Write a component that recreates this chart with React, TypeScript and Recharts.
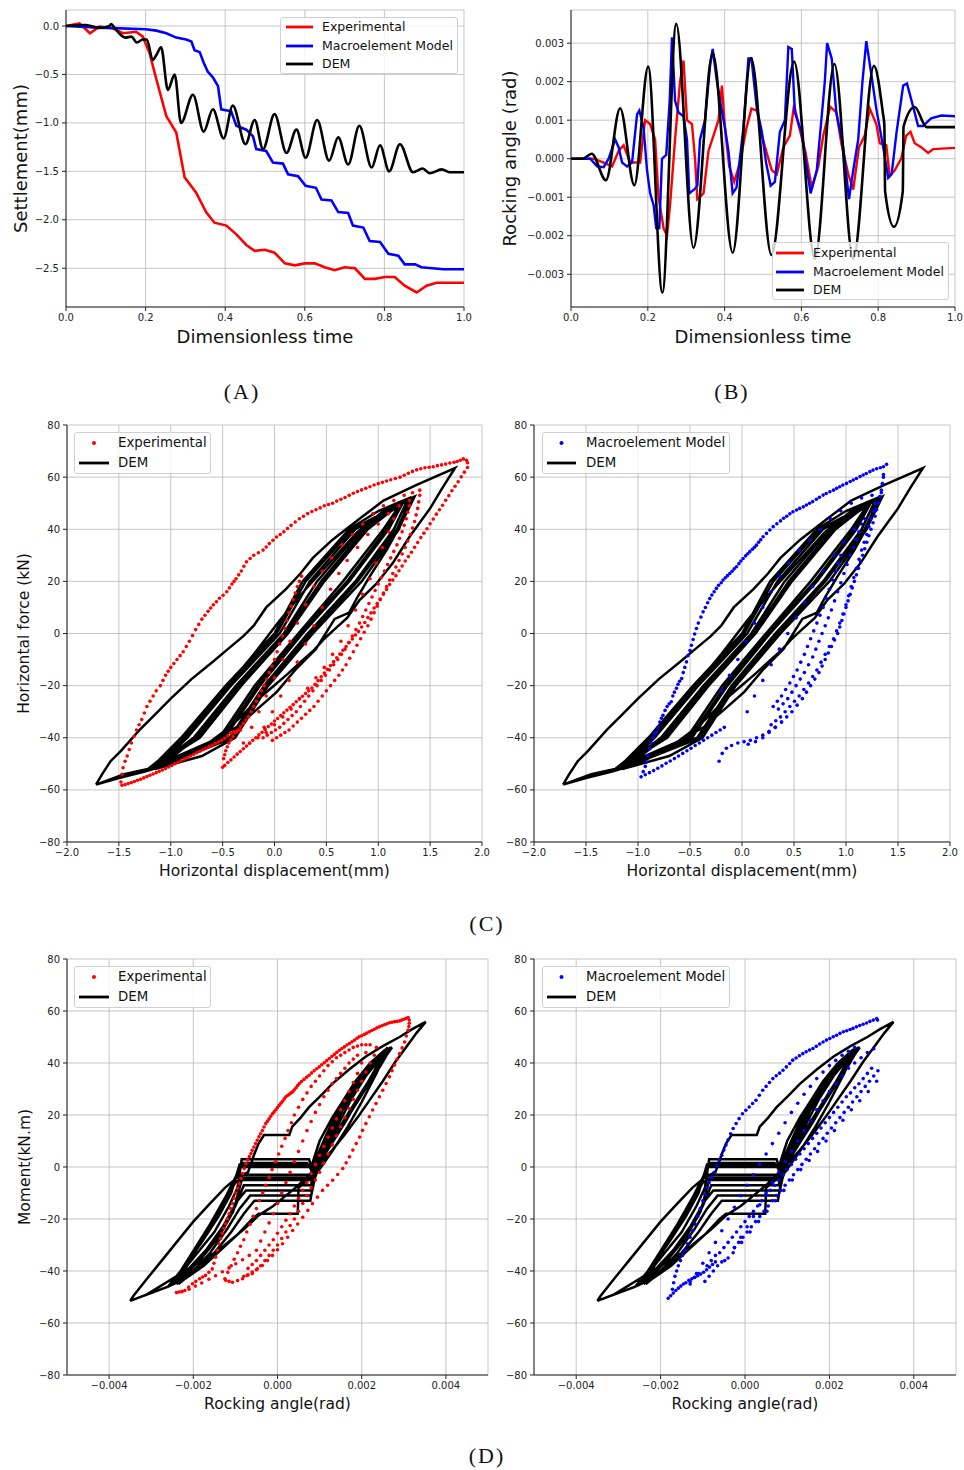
import React from "react";
import { ComposedChart, Line, Scatter, XAxis, YAxis, CartesianGrid } from "recharts";

const FONT = "'DejaVu Sans', sans-serif";
const RED = "#ff0000";
const BLUE = "#0000ff";
const BLACK = "#000000";

// (A) settlement (mm) against dimensionless time
const expSettle = [[0,0],[0.034,0.027],[0.06,-0.075],[0.084,-0.007],[0.117,-0.024],[0.143,-0.075],[0.176,-0.06],[0.193,-0.11],[0.21,-0.28],[0.227,-0.55],[0.252,-0.93],[0.277,-1.1],[0.298,-1.56],[0.327,-1.72],[0.352,-1.92],[0.373,-2.03],[0.403,-2.06],[0.428,-2.15],[0.453,-2.26],[0.474,-2.32],[0.5,-2.31],[0.524,-2.34],[0.55,-2.45],[0.575,-2.47],[0.6,-2.45],[0.625,-2.45],[0.65,-2.49],[0.675,-2.52],[0.7,-2.49],[0.726,-2.5],[0.751,-2.61],[0.776,-2.61],[0.801,-2.59],[0.826,-2.59],[0.851,-2.68],[0.881,-2.75],[0.906,-2.68],[0.931,-2.65],[1,-2.65]];
const macroSettle = [[0,0],[0.084,-0.017],[0.2,-0.034],[0.227,-0.048],[0.252,-0.075],[0.277,-0.12],[0.302,-0.14],[0.315,-0.16],[0.323,-0.25],[0.336,-0.27],[0.346,-0.38],[0.356,-0.47],[0.369,-0.53],[0.382,-0.62],[0.39,-0.86],[0.415,-0.88],[0.428,-1.03],[0.453,-1.07],[0.47,-1.14],[0.478,-1.27],[0.503,-1.29],[0.52,-1.41],[0.545,-1.42],[0.558,-1.53],[0.583,-1.55],[0.602,-1.65],[0.628,-1.67],[0.642,-1.79],[0.667,-1.8],[0.684,-1.92],[0.709,-1.93],[0.721,-2.06],[0.747,-2.08],[0.763,-2.22],[0.789,-2.23],[0.81,-2.35],[0.835,-2.37],[0.851,-2.46],[0.877,-2.46],[0.893,-2.49],[0.948,-2.51],[1,-2.51]];
const demSettle = [[0,0],[0.05,0.01],[0.084,-0.02],[0.109,0],[0.113,0.02],[0.126,-0.04],[0.149,-0.12],[0.164,-0.11],[0.178,-0.17],[0.193,-0.14],[0.203,-0.14],[0.218,-0.35],[0.227,-0.3],[0.239,-0.22],[0.256,-0.66],[0.273,-0.5],[0.289,-1.0],[0.319,-0.71],[0.346,-1.09],[0.369,-0.86],[0.396,-1.16],[0.419,-0.82],[0.451,-1.22],[0.474,-0.97],[0.495,-1.27],[0.524,-0.91],[0.554,-1.31],[0.579,-1.07],[0.602,-1.36],[0.631,-0.97],[0.661,-1.39],[0.684,-1.15],[0.709,-1.43],[0.737,-1.03],[0.768,-1.46],[0.789,-1.23],[0.812,-1.5],[0.839,-1.22],[0.872,-1.51],[0.896,-1.47],[0.914,-1.52],[0.944,-1.48],[0.965,-1.51],[1,-1.51]];

// (B) rocking angle, in 1e-3 rad, against dimensionless time
const expRock = [[0,0],[0.059,0],[0.085,-0.1],[0.107,-0.2],[0.124,0.2],[0.137,0.35],[0.154,-0.1],[0.18,-0.1],[0.193,1.0],[0.206,0.9],[0.219,0.5],[0.228,-1.0],[0.241,-1.8],[0.25,-2.0],[0.258,-1.2],[0.271,0.5],[0.284,2.0],[0.293,2.55],[0.302,1.0],[0.315,0.9],[0.323,0],[0.329,-1.05],[0.345,-0.9],[0.358,0.2],[0.371,0.6],[0.384,1.0],[0.393,1.9],[0.401,0.8],[0.412,-0.2],[0.425,-0.6],[0.44,-0.1],[0.457,0.8],[0.47,1.3],[0.484,1.25],[0.497,0.6],[0.514,0],[0.523,-0.3],[0.536,-0.4],[0.553,0.3],[0.57,0.6],[0.581,1.4],[0.592,0.9],[0.61,0.2],[0.627,-0.75],[0.644,-0.2],[0.657,0.6],[0.675,1.35],[0.691,1.2],[0.704,0.4],[0.722,-0.4],[0.735,-0.8],[0.75,0.3],[0.765,0.6],[0.778,1.3],[0.795,0.9],[0.804,0.4],[0.821,0.35],[0.83,-0.45],[0.843,-0.3],[0.86,0],[0.873,0.6],[0.884,0.7],[0.895,0.4],[0.912,0.3],[0.93,0.15],[0.943,0.25],[1,0.28]];
const macroRock = [[0,0],[0.05,0],[0.068,-0.2],[0.085,-0.22],[0.098,0],[0.115,0.5],[0.124,0.3],[0.133,-0.1],[0.146,-0.2],[0.159,-0.1],[0.172,1.15],[0.178,1.25],[0.189,0.8],[0.198,-0.3],[0.206,-0.9],[0.215,-1.2],[0.222,-1.8],[0.23,-1.8],[0.237,0],[0.248,0.1],[0.257,1.5],[0.263,3.15],[0.271,1.5],[0.28,1.2],[0.293,1.1],[0.302,0.5],[0.308,-0.9],[0.321,-0.8],[0.329,-0.7],[0.336,0.5],[0.349,1.0],[0.362,2.4],[0.369,2.85],[0.38,2.0],[0.388,1.5],[0.401,0.8],[0.41,0.2],[0.421,-0.9],[0.431,-0.75],[0.449,0.8],[0.462,2.6],[0.47,2.6],[0.484,1.3],[0.497,0.7],[0.508,-0.1],[0.52,-0.7],[0.531,-0.6],[0.544,0.7],[0.557,1.0],[0.566,2.9],[0.575,2.85],[0.583,1.2],[0.6,0.7],[0.618,-0.5],[0.624,-0.9],[0.64,-0.3],[0.652,1.0],[0.661,2.0],[0.667,3.0],[0.679,2.6],[0.691,1.2],[0.709,0.3],[0.724,-1.05],[0.735,-0.3],[0.748,0.5],[0.759,2.0],[0.769,3.05],[0.782,2.2],[0.795,1.3],[0.813,0.3],[0.826,-0.5],[0.835,-0.4],[0.848,0.7],[0.865,1.9],[0.875,1.95],[0.887,1.5],[0.904,0.85],[0.917,0.85],[0.938,1.05],[0.964,1.12],[1,1.1]];
const demRock = [[0,0],[0.03,0],[0.054,0.13],[0.091,-0.56],[0.128,1.31],[0.165,-0.69],[0.201,2.39],[0.238,-3.48],[0.274,3.5],[0.319,-2.31],[0.369,2.74],[0.421,-2.44],[0.469,2.61],[0.522,-2.5],[0.581,2.52],[0.635,-2.6],[0.686,2.46],[0.735,-2.6],[0.789,2.41],[0.812,1.2],[0.816,0.88],[0.818,-0.85],[0.841,-1.77],[0.864,-0.85],[0.866,0.83],[0.895,1.34],[0.926,0.82],[1,0.82]];

// (C) horizontal force (kN) against horizontal displacement (mm)
const expForce = [
  [-1.48,-57],[-1.47,-54],[-1.46,-51.5],[-1.44,-49],[-1.42,-47],[-1.4,-44.5],[-1.38,-42],[-1.355,-39.5],[-1.33,-37],[-1.305,-35],[-1.28,-33],[-1.255,-30.5],[-1.23,-28],[-1.2,-26],[-1.17,-24],[-1.14,-22],[-1.1,-20],[-1.075,-18],[-1.05,-16],[-1.025,-14.5],[-1.0,-13],[-0.97,-11.5],[-0.94,-10],[-0.91,-8.5],[-0.88,-7],[-0.85,-5],[-0.82,-3],[-0.79,-0.8],[-0.76,1.5],[-0.73,3.5],[-0.7,5.5],[-0.67,7],[-0.64,8.5],[-0.615,9.8],[-0.59,11],[-0.56,12.2],[-0.53,13.5],[-0.495,14.7],[-0.46,16],[-0.435,17.5],[-0.41,19],[-0.39,20],[-0.37,21],[-0.345,22.5],[-0.32,24],[-0.295,25.8],[-0.27,27.5],[-0.235,28.8],[-0.2,30],[-0.155,31],[-0.11,32],[-0.08,33.2],[-0.05,34.5],[-0.015,35.8],[0.02,37],[0.055,38],[0.09,39],[0.125,40.3],[0.16,41.5],[0.2,42.8],[0.24,44],[0.28,45],[0.32,46],[0.36,46.8],[0.4,47.5],[0.44,48.2],[0.48,49],[0.52,49.5],[0.56,50],[0.6,50.8],[0.64,51.5],[0.68,52.2],[0.72,53],[0.76,53.8],[0.8,54.5],[0.84,55.1],[0.88,55.7],[0.92,56.3],[0.96,57],[1.0,57.5],[1.04,58],[1.08,58.5],[1.12,59],[1.165,59.5],[1.21,60],[1.25,60.7],[1.29,61.5],[1.33,62.2],[1.37,62.8],[1.41,63.2],[1.45,63.6],[1.49,63.8],[1.53,64],[1.57,64.4],[1.61,64.7],[1.65,65],[1.69,65.4],[1.73,65.7],[1.76,66],[1.79,66.5],[1.82,67],[1.85,66.5],[1.86,65.5],
  [1.86,63.7],[1.83,61.9],[1.8,60.1],[1.77,58.2],[1.74,56.5],[1.71,54.8],[1.68,52.9],[1.65,51.1],[1.62,49.2],[1.59,47.5],[1.56,45.8],[1.53,43.9],[1.5,42.1],[1.47,40.2],[1.44,38.5],[1.41,36.8],[1.38,34.9],[1.35,33.1],[1.32,31.2],[1.29,29.5],[1.26,27.8],[1.23,25.9],[1.2,24.1],[1.17,22.2],[1.14,20.5],[1.11,18.8],[1.08,16.9],[1.05,15.1],[1.02,13.2],[0.99,11.5],[0.96,9.8],[0.93,7.9],[0.9,6.1],[0.87,4.2],[0.84,2.5],[0.81,0.8],[0.78,-0.6],[0.75,-2.1],[0.72,-3.5],[0.69,-5],[0.66,-6.4],[0.63,-7.9],[0.6,-9.3],[0.57,-10.8],[0.54,-12.3],[0.51,-13.7],[0.48,-15.2],[0.45,-16.6],[0.42,-18.1],[0.39,-19.5],[0.36,-20.9],[0.33,-22],[0.3,-23],[0.27,-24.1],[0.24,-25.1],[0.21,-26.2],[0.18,-27.3],[0.15,-28.3],[0.12,-29.4],[0.09,-30.4],[0.06,-31.5],[0.03,-32.6],[0.0,-33.6],[-0.03,-34.7],[-0.06,-35.7],[-0.09,-36.8],[-0.12,-37.9],[-0.15,-38.9],[-0.18,-40],[-0.21,-41],[-0.24,-42.1],[-0.27,-43.2],[-0.3,-44.2],[-0.33,-45.3],[-0.36,-46.3],[-0.39,-47.4],[-0.42,-48.5],[-0.45,-49.5],[-0.48,-50.6],[-0.5,-51.3],
  [-1.47,-58.2],[-1.44,-58],[-1.41,-57.6],[-1.38,-57.2],[-1.35,-56.8],[-1.32,-56.3],[-1.29,-55.9],[-1.26,-55.4],[-1.23,-54.9],[-1.2,-54.4],[-1.17,-53.9],[-1.14,-53.4],[-1.11,-52.9],[-1.08,-52.4],[-1.05,-51.8],[-1.02,-51.2],[-0.99,-50.6],[-0.96,-50],[-0.93,-49.4],[-0.9,-48.8],[-0.87,-48.2],[-0.84,-47.6],[-0.81,-47],[-0.78,-46.4],[-0.75,-45.8],[-0.72,-45.2],[-0.69,-44.6],[-0.66,-44],[-0.63,-43.4],[-0.6,-42.8],[-0.57,-42.2],[-0.54,-41.6],[-0.51,-41],[-0.48,-40.2],[-0.45,-39.2],[-0.42,-38.3],[-0.39,-37.7],[-0.36,-37.4],[-0.33,-37.1],
  [-0.49,-48],[-0.48,-46.5],[-0.47,-45],[-0.455,-43.5],[-0.44,-42],[-0.42,-40.8],[-0.4,-39.5],[-0.375,-38.2],[-0.35,-37],[-0.325,-35.8],[-0.3,-34.5],[-0.275,-33.2],[-0.25,-32],[-0.225,-30],[-0.2,-28],[-0.175,-26],[-0.15,-24],[-0.125,-22],[-0.1,-20],[-0.075,-17.5],[-0.05,-15],[-0.025,-12.5],[0.0,-10],[0.025,-7],[0.05,-4],[0.075,-1],[0.1,2],[0.12,5],[0.14,8],[0.16,10.5],[0.18,13],[0.2,15.5],[0.22,18],[0.24,20],[0.26,22],
  [-0.3,-42],[-0.22,-36],[-0.15,-30],[-0.08,-24],[0.0,-17],[0.08,-10],[0.15,-3],[0.22,4],[0.3,11],[0.38,18],[0.46,24],[0.55,29],[0.65,34],[0.75,38],[0.85,42],[0.95,46],[1.05,49],[1.15,51],[1.25,53],[1.33,54],[1.4,55],
  [-0.1,-36],[-0.02,-30],[0.06,-24],[0.14,-18],[0.22,-11],[0.3,-4],[0.38,3],[0.46,10],[0.54,17],[0.62,23],[0.7,28],[0.8,33],[0.9,38],[1.0,42],[1.1,46],[1.2,49],[1.3,51],
  [1.4,53],[1.39,50.5],[1.38,48],[1.365,45.5],[1.35,43],[1.33,40.5],[1.31,38],[1.285,35.5],[1.26,33],[1.23,30.5],[1.2,28],[1.17,25.5],[1.14,23],[1.11,20.5],[1.08,18],[1.05,15.5],[1.02,13],[0.99,10.5],[0.96,8],[0.93,5.5],[0.9,3],[0.865,0.5],[0.83,-2],[0.795,-4.5],[0.76,-7],[0.725,-9.5],[0.69,-12],[0.655,-14],[0.62,-16],[0.58,-18],[0.54,-20],[0.5,-22],[0.46,-24],[0.42,-26],[0.38,-28],[0.34,-29.5],[0.3,-31],[0.26,-32.5],[0.22,-34],[0.18,-35.5],[0.14,-37],[0.1,-38],[0.06,-39],[0.02,-40],[-0.02,-41],
  [1.3,49],[1.285,46.5],[1.27,44],[1.25,41.5],[1.23,39],[1.205,36.5],[1.18,34],[1.15,31.5],[1.12,29],[1.09,26.5],[1.06,24],[1.03,21.5],[1.0,19],[0.97,16.5],[0.94,14],[0.91,11.5],[0.88,9],[0.85,6.5],[0.82,4],[0.785,1.5],[0.75,-1],[0.715,-3.5],[0.68,-6],[0.645,-8],[0.61,-10],[0.57,-12],[0.53,-14],[0.49,-16],[0.45,-18],[0.41,-20],[0.37,-22],[0.33,-24],[0.29,-26],[0.25,-28],[0.21,-30],[0.17,-31.5],[0.13,-33],[0.09,-34.5],[0.05,-36],[0.01,-37],[-0.03,-38],[-0.07,-39],[-0.11,-40],
  [1.15,44],[1.1,39],[1.04,33],[0.98,27],[0.92,21],[0.85,15],[0.78,9],[0.71,3],[0.64,-3],[0.56,-8],[0.48,-13],[0.4,-17],[0.32,-21],[0.24,-25],[0.16,-29],[0.08,-32],[0.0,-35],[-0.08,-38],[-0.16,-40],[-0.24,-42],
];
const macroForce = [
  [-0.95,-53],[-0.93,-51],[-0.92,-49.3],[-0.905,-46.8],[-0.887,-44.2],[-0.87,-42],[-0.855,-40],[-0.84,-38.5],[-0.823,-37.8],[-0.81,-36],[-0.79,-34],[-0.775,-32.5],[-0.76,-31.4],[-0.74,-29.5],[-0.72,-28],[-0.7,-27],[-0.68,-26.2],[-0.665,-24],[-0.65,-22.5],[-0.63,-21],[-0.615,-19.5],[-0.6,-18.3],[-0.58,-17.3],[-0.565,-15],[-0.55,-13],[-0.534,-10.9],[-0.52,-8.5],[-0.5,-6.5],[-0.486,-4.5],[-0.47,-2.3],[-0.455,-0.2],[-0.438,1.9],[-0.42,4],[-0.395,6.3],[-0.374,8.3],[-0.352,10],[-0.33,11.8],[-0.31,13.4],[-0.29,14.8],[-0.268,16],[-0.246,17.3],[-0.225,18.5],[-0.2,19.5],[-0.182,20.5],[-0.16,21.4],[-0.14,22.2],[-0.117,23],[-0.095,23.9],[-0.075,24.8],[-0.053,25.6],[-0.03,26.8],[-0.01,27.8],[0.011,28.8],[0.035,29.8],[0.055,30.6],[0.075,31.4],[0.1,32.3],[0.12,33.1],[0.139,33.9],[0.16,35],[0.18,36],[0.203,37.1],[0.235,38.4],[0.268,39.7],[0.3,41],[0.335,42.1],[0.37,43.2],[0.4,44.2],[0.43,45],[0.46,45.9],[0.49,46.7],[0.525,47.4],[0.555,48],[0.59,48.6],[0.62,49.3],[0.65,50],[0.68,50.6],[0.715,51.5],[0.745,52.3],[0.78,53.1],[0.81,53.7],[0.845,54.4],[0.88,55],[0.91,55.7],[0.94,56.3],[0.97,57],[1.005,57.6],[1.04,58.3],[1.07,58.9],[1.1,59.5],[1.135,60.2],[1.165,60.8],[1.195,61.4],[1.23,62.1],[1.26,62.7],[1.295,63.2],[1.33,63.6],[1.36,64],[1.39,64.9],[1.36,61],[1.35,57.5],[1.34,54],
  [-0.97,-55],[-0.93,-54.2],[-0.89,-53.4],[-0.85,-52.6],[-0.81,-51.7],[-0.77,-50.8],[-0.73,-49.8],[-0.69,-48.9],[-0.65,-48],[-0.61,-47],[-0.57,-46],[-0.53,-45],[-0.49,-44],[-0.45,-43],[-0.41,-42],[-0.37,-41],[-0.33,-40],[-0.29,-39],[-0.25,-38],[-0.21,-37],[-0.17,-36],
  [-0.22,-49],[-0.19,-46],[-0.15,-44],[-0.1,-43],[-0.04,-42],[0.02,-41.5],[0.08,-41],[0.14,-40],[0.2,-39],[0.26,-37.5],[0.32,-36],[0.38,-34],
  [1.36,60],[1.35,57.5],[1.34,55],[1.325,52.5],[1.31,50],[1.295,47.5],[1.28,45],[1.26,42.5],[1.24,40],[1.22,37.5],[1.2,35],[1.18,32.5],[1.16,30],[1.14,27.5],[1.12,25],[1.1,22.5],[1.08,20],[1.06,17.5],[1.04,15],[1.02,12.5],[1.0,10],[0.98,7.5],[0.96,5],[0.94,2.5],[0.92,0],[0.89,-2.5],[0.86,-5],[0.83,-7.5],[0.8,-10],[0.77,-12.5],[0.74,-15],[0.7,-17.5],[0.66,-20],[0.62,-22.5],[0.58,-25],[0.53,-27.5],[0.48,-30],[0.43,-32],[0.38,-34],[0.32,-36],[0.26,-38],[0.2,-40],[0.13,-41.5],[0.06,-42.5],
  [1.28,50],[1.26,47],[1.24,44],[1.22,41],[1.2,38],[1.175,35],[1.15,32],[1.125,28.5],[1.1,25],[1.075,21.5],[1.05,18],[1.025,14.5],[1.0,11],[0.97,7.5],[0.94,4],[0.91,1],[0.88,-2],[0.84,-5],[0.8,-8],[0.76,-11],[0.72,-14],[0.68,-16.5],[0.64,-19],[0.595,-21.5],[0.55,-24],[0.505,-26],[0.46,-28],[0.415,-30],[0.37,-32],[0.325,-33.5],[0.28,-35],
  [1.15,42],[1.125,39],[1.1,36],[1.07,33],[1.04,30],[1.01,26.5],[0.98,23],[0.95,19.5],[0.92,16],[0.89,12.5],[0.86,9],[0.83,6],[0.8,3],[0.77,0],[0.74,-3],[0.71,-6],[0.68,-9],[0.64,-12],[0.6,-15],[0.56,-17.5],[0.52,-20],[0.48,-22.5],[0.44,-25],[0.395,-27],[0.35,-29],
  [0.95,30],[0.925,27],[0.9,24],[0.87,20.5],[0.84,17],[0.81,13.5],[0.78,10],[0.75,7],[0.72,4],[0.69,1],[0.66,-2],[0.63,-5],[0.6,-8],[0.565,-11],[0.53,-14],[0.495,-16.5],[0.46,-19],[0.42,-21.5],[0.38,-24],[0.34,-26],[0.3,-28],
  [-0.2,-22],[-0.12,-16],[-0.04,-10],[0.04,-3],[0.12,4],[0.2,10],[0.28,16],[0.36,22],[0.45,27],[0.55,32],[0.65,36],[0.75,40],[0.85,44],[0.95,47],[1.05,50],[1.15,52],[1.25,53],
  [0.05,-30],[0.12,-24],[0.2,-18],[0.28,-12],[0.36,-6],[0.44,0],[0.52,6],[0.6,12],[0.68,18],[0.78,24],[0.88,30],[0.98,35],[1.08,40],[1.18,44],[1.28,47],
];
const demForce = [
  [-1.72,-58],[-1.67,-54.5],[-1.58,-49],[-1.48,-45],[-1.3,-37],[-1.15,-31],[-1.0,-25],[-0.8,-17.5],[-0.6,-11],[-0.45,-6],[-0.3,-1],[-0.2,3],[-0.08,10],[0.11,17],[0.25,23],[0.37,29],[0.56,36],[0.82,44],[1.05,51],[1.37,57],[1.74,63.5],
  [1.62,56],[1.5,48],[1.3,37],[1.14,27],[0.98,19],[0.82,12.8],[0.7,6],[0.57,1.3],[0.48,-2],[0.38,-6.4],[0.25,-11],[0.13,-15.4],[-0.02,-20.5],[-0.17,-25.6],[-0.3,-31],[-0.43,-35.9],[-0.6,-41],[-0.75,-44.9],[-1.0,-50],[-1.25,-53],[-1.5,-55.5],[-1.72,-58],
  [-1.45,-54],[-1.22,-52],[-1.0,-45],[-0.72,-33],[-0.45,-20],[-0.2,-8],[0.05,5],[0.3,17],[0.55,28],[0.8,39],[1.05,47],[1.35,52.5],
  [1.22,42],[1.08,32],[0.92,22],[0.8,14],[0.72,8],[0.58,5.6],[0.4,-5.9],[0.2,-14],[0.02,-22.5],[-0.18,-29.5],[-0.37,-36],[-0.68,-43],[-0.95,-49],[-1.2,-52],
  [-0.9,-40],[-0.47,-20],[0.0,0],[0.27,20],[0.72,40],[1.0,47],[1.3,52],
  [1.2,40],[0.84,20],[0.37,0],[-0.06,-20],[-0.38,-40],[-0.7,-47],[-1.15,-52],
  [-0.84,-40],[-0.42,-20],[0.05,0],[0.34,20],[0.78,40],[1.28,51],
  [1.15,40],[0.78,20],[0.32,0],[-0.1,-20],[-0.43,-40],[-1.18,-52],
  [-0.78,-40],[-0.37,-20],[0.09,0],[0.41,20],[0.84,40],[1.25,51],
  [1.1,40],[0.72,20],[0.27,0],[-0.14,-20],[-0.48,-40],[-1.2,-52],
  [-0.72,-40],[-0.32,-20],[0.13,0],[0.48,20],[0.9,40],[1.22,50],
  [1.05,40],[0.66,20],[0.23,0],[-0.19,-20],[-0.53,-40],[-1.16,-51],
  [-0.87,-40],[-0.45,-20],[0.02,0],[0.3,20],[0.75,40],[1.32,52],
  [1.18,40],[0.8,20],[0.35,0],[-0.08,-20],[-0.4,-40],[-1.1,-51],
  [-0.75,-40],[-0.35,-20],[0.11,0],[0.45,20],[0.87,40],[1.2,49],
  [1.08,40],[0.7,20],[0.25,0],[-0.16,-20],[-0.5,-40],[-1.22,-52],
];

// (D) moment (kN.m) against rocking angle, angle in 1e-3 rad
const expMoment = [
  [-2.4,-48.3],[-2.34,-48.1],[-2.27,-47.8],[-2.2,-47.5],[-2.11,-46.2],[-2.02,-44.9],[-1.94,-44],[-1.85,-43],[-1.78,-42.3],[-1.71,-41.7],[-1.63,-40.5],[-1.55,-39.2],[-1.51,-37],[-1.47,-34.7],[-1.43,-32],[-1.39,-29.5],[-1.35,-27.5],[-1.31,-25.5],[-1.27,-23.6],[-1.23,-21.8],[-1.19,-19.9],[-1.15,-18],[-1.11,-16],[-1.07,-14.1],[-1.03,-12],[-0.99,-10],[-0.95,-8.2],[-0.91,-6.4],[-0.87,-4.4],[-0.83,-2.5],[-0.79,-0.6],[-0.75,1.3],[-0.71,2.7],[-0.67,4],[-0.63,5.2],[-0.6,6.4],[-0.56,7.7],[-0.52,9],[-0.48,10.3],[-0.44,11.6],[-0.4,12.8],[-0.36,14],[-0.32,15.4],[-0.28,16.7],[-0.24,17.6],[-0.2,18.5],[-0.16,19.5],[-0.12,20.5],[-0.08,21.2],[-0.04,22],[0,22.9],[0.04,23.7],[0.08,24.5],[0.12,25.3],[0.16,26.2],[0.2,27],[0.24,27.5],[0.28,28],[0.32,28.5],[0.36,28.9],[0.4,29.7],[0.44,30.5],[0.48,31.3],[0.52,32.1],[0.57,32.9],[0.63,33.7],[0.69,34.5],[0.75,35.3],[0.81,36.2],[0.87,37],[0.93,37.8],[0.99,38.5],[1.05,39.3],[1.11,40.1],[1.17,40.9],[1.23,41.7],[1.29,42.5],[1.35,43.3],[1.41,44.1],[1.47,44.9],[1.53,45.6],[1.59,46.2],[1.65,46.9],[1.71,47.5],[1.77,48.2],[1.83,48.8],[1.89,49.5],[1.94,50.1],[2.0,50.5],[2.06,51],[2.12,51.5],[2.18,52],[2.24,52.5],[2.3,53],[2.36,53.5],[2.42,53.9],[2.48,54.3],[2.54,54.7],[2.6,55.1],[2.66,55.5],[2.72,55.7],[2.78,55.9],[2.84,56],[2.9,56.2],[2.95,56.5],[3.0,56.8],[3.05,57.1],[3.1,57.5],[3.13,56.5],[3.13,55.3],
  [3.12,54],[3.1,52.6],[3.06,50.4],[3.02,48.1],[2.96,45.8],[2.9,43.6],[2.84,41.4],[2.78,39.2],[2.72,37],[2.66,34.7],[2.58,32.1],[2.5,29.5],[2.42,27],[2.34,24.4],[2.26,21.9],[2.18,19.3],[2.1,16.7],[2.02,14.1],[1.95,11.5],[1.87,9],[1.79,6.5],[1.71,3.9],[1.63,1.6],[1.55,-0.6],[1.43,-2.9],[1.31,-5.1],[1.19,-7],[1.07,-9],[0.95,-11.6],[0.83,-14.1],[0.72,-16.7],[0.6,-19.3],[0.48,-21.9],[0.36,-24.4],[0.24,-27],[0.12,-29.5],[0,-31.8],[-0.12,-34],[-0.24,-36],[-0.36,-37.9],[-0.48,-39.2],[-0.6,-40.4],[-0.72,-41.7],[-0.83,-43],[-0.95,-43.7],[-1.07,-44.3],[-1.15,-44],[-1.23,-43.6],
  [-2.27,-48],[-2.1,-47],[-1.95,-45.8],[-1.8,-44.6],[-1.63,-43.2],[-1.47,-41.8],[-1.31,-40.3],[-1.15,-38.8],[-0.99,-37.2],[-0.83,-35.7],[-0.67,-34],
  [-1.25,-43],[-1.18,-40.5],[-1.1,-38],[-1.03,-35.5],[-0.95,-33],[-0.88,-30.5],[-0.8,-28],[-0.73,-25],[-0.65,-22],[-0.58,-19],[-0.5,-16],[-0.43,-13],[-0.35,-10],[-0.28,-7],[-0.2,-4],[-0.13,-1],[-0.05,2],[0.03,5],[0.1,8],[0.18,11],[0.25,14],[0.33,17],[0.4,20],[0.5,23],[0.6,26],[0.7,28.5],[0.8,31],[0.9,33],[1.0,35],[1.1,37],[1.2,39],[1.3,40.5],[1.4,42],[1.5,43],[1.6,44],[1.7,45],[1.8,46],[1.9,46.5],[2.0,47],[2.1,47],[2.2,47],[2.35,46],
  [2.3,43],[2.2,40],[2.1,36.5],[2.0,33],[1.9,29.5],[1.8,26],[1.7,22.5],[1.6,19],[1.5,15.5],[1.4,12],[1.3,8.5],[1.2,5],[1.1,1.5],[1.0,-2],[0.9,-5],[0.8,-8],[0.7,-11],[0.6,-14],[0.5,-17],[0.4,-20],[0.3,-22.5],[0.2,-25],[0.1,-27.5],[0.0,-30],[-0.1,-32],[-0.2,-34],[-0.3,-36],[-0.4,-38],[-0.5,-39.5],[-0.6,-41],[-0.7,-41.5],[-0.8,-42],
  [2.1,44],[2.0,40],[1.9,36],[1.8,32.5],[1.7,29],[1.6,25.5],[1.5,22],[1.4,18.5],[1.3,15],[1.2,11.5],[1.1,8],[1.0,4.5],[0.9,1],[0.8,-2.5],[0.7,-6],[0.6,-9],[0.5,-12],[0.4,-15],[0.3,-18],[0.2,-20.5],[0.1,-23],[0.0,-25.5],[-0.1,-28],[-0.2,-30],[-0.3,-32],[-0.4,-34],[-0.5,-36],[-0.6,-37.5],[-0.7,-39],
  [-0.5,-32],[-0.4,-28.5],[-0.3,-25],[-0.2,-21.5],[-0.1,-18],[0.0,-14],[0.1,-10],[0.2,-6],[0.3,-2],[0.4,2],[0.5,6],[0.6,10],[0.7,14],[0.8,17.5],[0.9,21],[1.0,24],[1.1,27],[1.2,29.5],[1.3,32],[1.4,34],[1.5,36],[1.6,38],[1.7,40],[1.8,41.5],[1.9,43],
];
const macroMoment = [
  [-1.82,-50.5],[-1.76,-49.5],[-1.7,-48.5],[-1.64,-47.5],[-1.58,-46.6],[-1.52,-45.8],[-1.46,-45],[-1.4,-44.5],[-1.33,-43.6],[-1.26,-43],[-1.19,-42.4],[-1.12,-41.8],[-1.05,-41.2],[-0.98,-40.5],[-0.91,-39.5],[-0.84,-38.5],[-0.77,-37.5],[-0.7,-36.5],
  [-1.72,-47],[-1.69,-44.5],[-1.66,-42],[-1.62,-40],[-1.58,-38],[-1.53,-36],[-1.48,-34],[-1.42,-32],[-1.36,-29.5],[-1.3,-27],[-1.24,-24.5],[-1.18,-22],[-1.12,-19],[-1.06,-16],[-1.0,-13],[-0.95,-10.5],[-0.9,-8],[-0.85,-6],[-0.79,-4],[-0.73,-2],[-0.67,0.5],[-0.61,2.5],[-0.55,4.5],[-0.5,6.5],[-0.45,8.5],[-0.4,10.5],[-0.34,12.8],[-0.28,14.8],[-0.21,16.7],[-0.14,18.6],[-0.06,20.5],[0.02,21.8],[0.1,23.1],[0.18,24.4],[0.26,25.7],[0.34,27.6],[0.42,29.5],[0.5,31],[0.58,32.5],[0.66,34],[0.74,35.1],[0.82,36.1],[0.9,37.2],[0.98,38.5],[1.06,39.8],[1.13,41.1],[1.21,41.9],[1.29,42.8],[1.37,43.6],[1.45,44.3],[1.53,45],[1.61,45.6],[1.69,46.4],[1.77,47.3],[1.85,48.1],[1.93,48.8],[2.01,49.4],[2.09,50.1],[2.17,50.7],[2.25,51.4],[2.33,52],[2.41,52.4],[2.49,52.9],[2.56,53.3],[2.64,53.9],[2.72,54.4],[2.8,54.9],[2.88,55.4],[2.96,56],[3.04,56.5],[3.12,57.1],[3.14,56.5],
  [3.15,37],[2.95,33],[2.75,29],[2.55,25],[2.35,21],[2.15,17],[1.95,13],[1.75,9],[1.55,5],[1.35,1],[1.15,-3],[0.95,-7],[0.75,-11],[0.55,-15],[0.35,-19],[0.15,-23],[-0.05,-27],[-0.25,-31],
  [3.05,35],[2.85,31],[2.65,27],[2.45,23],[2.25,19],[2.05,15],[1.85,11],[1.65,7],[1.45,3],[1.25,-1],[1.05,-5],[0.85,-9],[0.65,-13],[0.45,-17],[0.25,-21],[0.05,-25],[-0.15,-29],
  [3.0,38],[2.8,34],[2.6,30.5],[2.4,27],[2.2,23],[2.0,19],[1.8,15],[1.6,11],[1.4,7],[1.2,3],[1.0,-1],[0.8,-5],[0.6,-9],[0.4,-13],[0.2,-17],[0.0,-21],[-0.2,-25],[-0.4,-29],[-0.6,-33],
  [2.9,36],[2.7,32],[2.5,28.5],[2.3,25],[2.1,21],[1.9,17],[1.7,13],[1.5,9],[1.3,5],[1.1,1],[0.9,-3],[0.7,-7],[0.5,-11],[0.3,-15],[0.1,-19],[-0.1,-23],[-0.3,-27],[-0.5,-31],
  [3.12,33],[2.92,29],[2.72,25.5],[2.52,22],[2.32,18],[2.12,14],[1.92,10],[1.72,6],[1.52,2.5],[1.32,-1],[1.12,-5],[0.92,-9],[0.72,-13],[0.52,-17],[0.32,-21],[0.12,-25],[-0.08,-29],[-0.28,-33],[-0.48,-36],
  [-1.3,-45],[-1.15,-41],[-1.0,-37],[-0.85,-33],[-0.7,-29],[-0.55,-24.5],[-0.4,-20],[-0.25,-15.5],[-0.1,-11],[0.05,-7],[0.2,-3],[0.35,1],[0.5,5],[0.65,9],[0.8,13],[0.95,17],[1.1,21],[1.25,24.5],[1.4,28],[1.55,31],[1.7,34],[1.85,36.5],[2.0,39],[2.15,41],[2.3,43],[2.45,44.5],[2.6,46],
  [-0.4,-35],[-0.25,-31],[-0.1,-27],[0.05,-23],[0.2,-19],[0.35,-14.5],[0.5,-10],[0.65,-6],[0.8,-2],[0.95,2],[1.1,6],[1.25,10],[1.4,14],[1.55,18],[1.7,22],[1.85,25.5],[2.0,29],[2.15,32],[2.3,35],[2.45,38],[2.6,40],[2.75,42],[2.9,44],[3.05,45.5],
  [-1.3,-44],[-1.2,-42.5],[-1.1,-41],[-0.95,-44],[-0.85,-42],[-0.75,-40],[-0.65,-38],[-0.55,-36.5],[-0.9,-38],[-0.8,-36],[-0.7,-34],
];
const demMoment = [
  [-3.5,-51.5],[-3.42,-49.5],[-3.1,-43],[-2.75,-36],[-2.4,-29],[-2.0,-21],[-1.6,-14],[-1.25,-8],[-0.95,-4],[-0.7,-2],[-0.55,5],[-0.45,9],[-0.32,12.3],[0.28,12.3],[0.35,15.5],[0.55,19],[0.75,23],[1.0,27],[1.3,32],[1.7,37.5],[2.1,42.5],[2.5,46.5],[2.9,50],[3.2,53],[3.52,55.8],
  [3.3,51.5],[3.05,46],[2.8,40.5],[2.5,33],[2.2,26],[1.9,19],[1.6,12.5],[1.3,6.5],[1.05,2],[0.9,-1],[0.75,-3],[0.5,-7],[0.2,-11],[-0.1,-15],[-0.44,-18.5],[-0.8,-24],[-1.1,-28],[-1.4,-32],[-1.7,-35],[-2.0,-38],[-2.2,-40],[-2.5,-43],[-2.8,-46],[-3.1,-49],[-3.5,-51.5],
  [-2.6,-46],[-2.3,-41],[-1.9,-33],[-1.5,-25],[-1.15,-15],[-0.95,-8],[-0.85,3],[0.75,3],[0.8,0],[1.0,10],[1.3,19],[1.7,29],[2.1,37],[2.45,43],[2.7,46],[2.45,39],[2.1,31],[1.7,21],[1.3,11],[0.95,3],[0.8,-5],[-0.85,-5],[-1.05,-17],[-1.4,-27],[-1.8,-35],[-2.2,-42],[-2.6,-46],
  [-2.2,-38],[-1.8,-29],[-1.4,-19],[-1.1,-10],[-0.9,1],[0.72,1],[0.85,-2],[1.1,8],[1.45,20],[1.8,30],[2.15,38],[2.5,44],[2.72,46],[2.5,41],[2.2,34],[1.85,25],[1.5,16],[1.15,7],[0.85,-1],[0.8,-7],[-0.8,-7],[-1.0,-15],[-1.35,-25],[-1.75,-33],[-2.15,-40],[-2.5,-45],
  [-2.3,-40],[-1.95,-31],[-1.6,-22],[-1.25,-12],[-1.0,-4],[-0.88,0],[0.78,0],[0.85,-4],[1.2,10],[1.55,22],[1.9,31],[2.25,39],[2.55,45],[2.6,45],[2.35,37],[2.0,28],[1.65,19],[1.3,10],[0.95,1],[0.82,-9],[-0.75,-9],[-0.95,-13],[-1.3,-23],[-1.7,-32],[-2.1,-39],[-2.45,-45],
  [-2.15,-37],[-1.8,-28],[-1.45,-18],[-1.15,-9],[-0.95,-3],[0.8,-3],[0.85,-6],[1.05,3],[1.4,15],[1.75,26],[2.1,35],[2.4,41],[2.68,46],[2.4,38],[2.05,29],[1.7,20],[1.35,12],[1.0,4],[0.8,-11],[-0.65,-11],[-0.9,-16],[-1.2,-24],[-1.6,-33],[-2.0,-40],[-2.4,-45],
  [-2.05,-35],[-1.7,-26],[-1.35,-16],[-1.05,-7],[-0.85,1.5],[0.7,1.5],[0.8,-1],[1.15,12],[1.5,24],[1.85,33],[2.2,40],[2.55,45],[2.3,37],[1.95,27],[1.6,17],[1.25,8],[0.9,-1],[0.78,-13],[-0.55,-13],[-0.8,-18],[-1.1,-25],[-1.5,-33],[-1.9,-39],[-2.35,-45],
  [-2.0,-33],[-1.65,-24],[-1.3,-14],[-1.0,-6],[-0.82,-4],[0.82,-4],[0.88,-2],[1.25,14],[1.6,25],[1.95,33],[2.3,40],[2.62,46],[2.35,36],[2.0,25],[1.65,15],[1.3,6],[0.95,-2],[0.5,-8],[0.48,-18],[-0.45,-18],[-0.6,-20],[-0.95,-26],[-1.35,-32],[-1.75,-38],[-2.2,-43],[-2.6,-46],
];

// tick labels
const timeTicks = [0, 0.2, 0.4, 0.6, 0.8, 1.0];
const settleTicks = [-2.5, -2.0, -1.5, -1.0, -0.5, 0.0];
const rockTicks = [-0.003, -0.002, -0.001, 0, 0.001, 0.002, 0.003];
const dispTicks = [-2, -1.5, -1, -0.5, 0, 0.5, 1, 1.5, 2];
const forceTicks = [-80, -60, -40, -20, 0, 20, 40, 60, 80];
const angleTicks = [-0.004, -0.002, 0, 0.002, 0.004];

const toXY = (arr: number[][], sx = 1, sy = 1) => arr.map(([x, y]) => ({ x: x * sx, y: y * sy }));
const fmt = (d: number) => (v: number) => v.toFixed(d).replace("-", "\u2212");

const dotShape = (color: string) => (p: any) => <circle cx={p.cx} cy={p.cy} r={1.8} fill={color} />;

type PanelProps = {
  left: number; top: number; width: number; height: number;
  margin: { top: number; right: number; left: number; bottom: number };
  yWidth: number; xHeight: number;
  xDomain: number[]; yDomain: number[];
  xTicks: number[]; yTicks: number[];
  xFmt: (v: number) => string; yFmt: (v: number) => string;
  xLabel: string; xLabelOffset: number;
  yLabel?: string; yLabelOffset?: number;
  labelSize: number;
  children: React.ReactNode;
};

function Panel(p: PanelProps) {
  const tickStyle = { fontSize: 10, fill: "#222", fontFamily: FONT };
  const labelStyle = { fontSize: p.labelSize, fill: "#111", fontFamily: FONT };
  return (
    <div style={{ position: "absolute", left: p.left, top: p.top }}>
      <ComposedChart width={p.width} height={p.height} margin={p.margin}>
        <CartesianGrid stroke="#b8b8b8" strokeWidth={0.8} />
        <XAxis
          type="number" dataKey="x" domain={p.xDomain} ticks={p.xTicks} allowDataOverflow
          tickFormatter={p.xFmt} tick={tickStyle} tickSize={4} tickMargin={3} height={p.xHeight}
          stroke="#222" interval={0}
          label={{ value: p.xLabel, position: "insideBottom", offset: p.xLabelOffset, style: labelStyle }}
        />
        <YAxis
          type="number" dataKey="y" domain={p.yDomain} ticks={p.yTicks} allowDataOverflow
          tickFormatter={p.yFmt} tick={tickStyle} tickSize={4} tickMargin={3} width={p.yWidth}
          stroke="#222" interval={0}
          label={p.yLabel ? { value: p.yLabel, angle: -90, position: "insideLeft", offset: p.yLabelOffset, style: { ...labelStyle, textAnchor: "middle" } } : undefined}
        />
        <XAxis xAxisId="top" orientation="top" type="number" domain={p.xDomain} tick={false} tickLine={false} height={0} stroke="#222" />
        <YAxis yAxisId="right" orientation="right" type="number" domain={p.yDomain} tick={false} tickLine={false} width={0} stroke="#222" />
        {p.children}
      </ComposedChart>
    </div>
  );
}

type LegendItem = { label: string; color: string; kind: "line" | "dot" };

function LegendBox(props: {
  left: number; top: number; width: number; height: number; items: LegendItem[];
  rowTop: number; rowGap: number; sampleLeft: number; sampleWidth: number; textLeft: number;
  fontSize: number; alpha: number;
}) {
  return (
    <div
      style={{
        position: "absolute", left: props.left, top: props.top, width: props.width, height: props.height,
        border: "1px solid #d0d0d0", borderRadius: 3, boxSizing: "border-box",
        background: `rgba(255,255,255,${props.alpha})`, fontFamily: FONT, fontSize: props.fontSize, color: "#111",
      }}
    >
      {props.items.map((it, i) => {
        const cy = props.rowTop + i * props.rowGap;
        return (
          <React.Fragment key={it.label}>
            <svg style={{ position: "absolute", left: props.sampleLeft, top: cy - 4 }} width={props.sampleWidth} height={8}>
              {it.kind === "line" ? (
                <line x1={0} x2={props.sampleWidth} y1={4} y2={4} stroke={it.color} strokeWidth={2.8} />
              ) : (
                <circle cx={props.sampleWidth / 2} cy={4} r={2} fill={it.color} />
              )}
            </svg>
            <div style={{ position: "absolute", left: props.textLeft, top: cy - 9, height: 18, lineHeight: "18px", whiteSpace: "nowrap" }}>
              {it.label}
            </div>
          </React.Fragment>
        );
      })}
    </div>
  );
}

function Caption({ text, cx, cy }: { text: string; cx: number; cy: number }) {
  return (
    <div
      style={{
        position: "absolute", left: cx - 50, top: cy - 12, width: 100, height: 24, lineHeight: "24px",
        textAlign: "center", fontFamily: "'Liberation Serif', serif", fontSize: 22, letterSpacing: 2, color: "#111",
      }}
    >
      {text}
    </div>
  );
}

const lineSeries = (key: string, data: { x: number; y: number }[], color: string, width: number, type: any = "linear") => (
  <Line key={key} data={data} dataKey="y" stroke={color} strokeWidth={width} type={type} dot={false} activeDot={false} isAnimationActive={false} />
);
const dotSeries = (key: string, data: { x: number; y: number }[], color: string) => (
  <Scatter key={key} data={data} dataKey="y" fill={color} shape={dotShape(color)} isAnimationActive={false} />
);

const threeItems: LegendItem[] = [
  { label: "Experimental", color: RED, kind: "line" },
  { label: "Macroelement Model", color: BLUE, kind: "line" },
  { label: "DEM", color: BLACK, kind: "line" },
];
const expItems: LegendItem[] = [
  { label: "Experimental", color: RED, kind: "dot" },
  { label: "DEM", color: BLACK, kind: "line" },
];
const macroItems: LegendItem[] = [
  { label: "Macroelement Model", color: BLUE, kind: "dot" },
  { label: "DEM", color: BLACK, kind: "line" },
];

export default function App() {
  const forceCommon = {
    height: 470, xHeight: 43, xDomain: [-2, 2], yDomain: [-80, 80], xTicks: dispTicks, yTicks: forceTicks,
    xFmt: fmt(1), yFmt: fmt(0), xLabel: "Horizontal displacement(mm)", xLabelOffset: 9, labelSize: 15.5,
  };
  const momentCommon = {
    height: 470, xHeight: 45, xDomain: [-0.005, 0.005], yDomain: [-80, 80], xTicks: angleTicks, yTicks: forceTicks,
    xFmt: fmt(3), yFmt: fmt(0), xLabel: "Rocking angle(rad)", xLabelOffset: 11, labelSize: 15.5,
  };
  return (
    <div style={{ position: "absolute", left: 0, top: 0, width: 964, height: 1470, background: "#fff" }}>
      <Panel
        left={0} top={0} width={480} height={360} margin={{ top: 10, right: 16, left: 0, bottom: 0 }}
        yWidth={66} xHeight={53} xDomain={[0, 1]} yDomain={[-2.9, 0.165]} xTicks={timeTicks} yTicks={settleTicks}
        xFmt={fmt(1)} yFmt={fmt(1)} xLabel="Dimensionless time" xLabelOffset={17}
        yLabel="Settlement(mm)" yLabelOffset={21} labelSize={18}
      >
        {lineSeries("e", toXY(expSettle), RED, 2.6)}
        {lineSeries("m", toXY(macroSettle), BLUE, 2.6)}
        {lineSeries("d", toXY(demSettle), BLACK, 2.6, "monotone")}
      </Panel>
      <Panel
        left={490} top={0} width={474} height={360} margin={{ top: 10, right: 9, left: 0, bottom: 0 }}
        yWidth={81} xHeight={53} xDomain={[0, 1]} yDomain={[-0.00385, 0.00386]} xTicks={timeTicks} yTicks={rockTicks}
        xFmt={fmt(1)} yFmt={fmt(3)} xLabel="Dimensionless time" xLabelOffset={17}
        yLabel="Rocking angle (rad)" yLabelOffset={20} labelSize={18}
      >
        {lineSeries("e", toXY(expRock, 1, 0.001), RED, 2.4)}
        {lineSeries("m", toXY(macroRock, 1, 0.001), BLUE, 2.4)}
        {lineSeries("d", toXY(demRock, 1, 0.001), BLACK, 2.6, "monotone")}
      </Panel>

      <Panel {...forceCommon} left={0} top={415} width={490} margin={{ top: 10, right: 8, left: 0, bottom: 0 }}
        yWidth={67} yLabel="Horizontal force (kN)" yLabelOffset={23}>
        {dotSeries("e", toXY(expForce), RED)}
        {lineSeries("d", toXY(demForce), BLACK, 2.5)}
      </Panel>
      <Panel {...forceCommon} left={490} top={415} width={474} margin={{ top: 10, right: 14, left: 0, bottom: 0 }}
        yWidth={44}>
        {dotSeries("m", toXY(macroForce), BLUE)}
        {lineSeries("d", toXY(demForce), BLACK, 2.5)}
      </Panel>

      <Panel {...momentCommon} left={0} top={950} width={490} margin={{ top: 9, right: 2, left: 0, bottom: 0 }}
        yWidth={67} yLabel="Moment(kN.m)" yLabelOffset={24}>
        {dotSeries("e", toXY(expMoment, 0.001), RED)}
        {lineSeries("d", toXY(demMoment, 0.001), BLACK, 2.5)}
      </Panel>
      <Panel {...momentCommon} left={490} top={950} width={474} margin={{ top: 9, right: 8, left: 0, bottom: 0 }}
        yWidth={44}>
        {dotSeries("m", toXY(macroMoment, 0.001), BLUE)}
        {lineSeries("d", toXY(demMoment, 0.001), BLACK, 2.5)}
      </Panel>

      <LegendBox left={280} top={17} width={178} height={57} items={threeItems} rowTop={9} rowGap={18.5}
        sampleLeft={5} sampleWidth={27} textLeft={41} fontSize={12.5} alpha={0.8} />
      <LegendBox left={772} top={242} width={177} height={58} items={threeItems} rowTop={10} rowGap={18.5}
        sampleLeft={3} sampleWidth={28} textLeft={40} fontSize={12.5} alpha={0.8} />
      <LegendBox left={74} top={432} width={137} height={42} items={expItems} rowTop={10} rowGap={20}
        sampleLeft={4} sampleWidth={30} textLeft={43} fontSize={13.3} alpha={0.8} />
      <LegendBox left={542} top={432} width={188} height={42} items={macroItems} rowTop={10} rowGap={20}
        sampleLeft={4} sampleWidth={29} textLeft={43} fontSize={13.3} alpha={0.8} />
      <LegendBox left={74} top={966} width={137} height={42} items={expItems} rowTop={10} rowGap={20}
        sampleLeft={4} sampleWidth={30} textLeft={43} fontSize={13.3} alpha={0.8} />
      <LegendBox left={542} top={966} width={188} height={42} items={macroItems} rowTop={10} rowGap={20}
        sampleLeft={4} sampleWidth={29} textLeft={43} fontSize={13.3} alpha={0.8} />

      <Caption text="(A)" cx={242} cy={392} />
      <Caption text="(B)" cx={732} cy={392} />
      <Caption text="(C)" cx={487} cy={924} />
      <Caption text="(D)" cx={487} cy={1456} />
    </div>
  );
}
